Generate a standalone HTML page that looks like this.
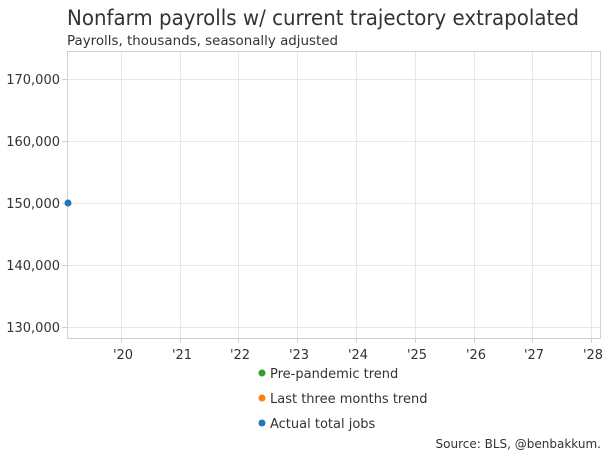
<!DOCTYPE html>
<html><head><style>
body{margin:0;background:#fff;width:615px;height:460px;overflow:hidden}
svg{display:block}
text{font-family:"DejaVu Sans","Liberation Sans",sans-serif;fill:#333}
</style></head><body>
<svg width="615" height="460" xmlns="http://www.w3.org/2000/svg">
<text x="67" y="25" font-size="21" textLength="512" lengthAdjust="spacingAndGlyphs">Nonfarm payrolls w/ current trajectory extrapolated</text>
<text x="67" y="45" font-size="13" textLength="271" lengthAdjust="spacingAndGlyphs">Payrolls, thousands, seasonally adjusted</text>
<g stroke="#e6e6e6" stroke-width="1">
<line x1="67" x2="600" y1="79.5" y2="79.5"/><line x1="67" x2="600" y1="141.5" y2="141.5"/>
<line x1="67" x2="600" y1="203.5" y2="203.5"/><line x1="67" x2="600" y1="265.5" y2="265.5"/>
<line x1="67" x2="600" y1="327.5" y2="327.5"/>
<line x1="121.5" x2="121.5" y1="51" y2="338"/><line x1="180.5" x2="180.5" y1="51" y2="338"/>
<line x1="238.5" x2="238.5" y1="51" y2="338"/><line x1="297.5" x2="297.5" y1="51" y2="338"/>
<line x1="356.5" x2="356.5" y1="51" y2="338"/><line x1="415.5" x2="415.5" y1="51" y2="338"/>
<line x1="474.5" x2="474.5" y1="51" y2="338"/><line x1="532.5" x2="532.5" y1="51" y2="338"/>
<line x1="591.5" x2="591.5" y1="51" y2="338"/>
</g>
<rect x="67.5" y="51.5" width="533" height="287" fill="none" stroke="#d0d0d0"/>
<g stroke="#d0d0d0"><line x1="62" x2="67" y1="79.5" y2="79.5"/><line x1="62" x2="67" y1="141.5" y2="141.5"/><line x1="62" x2="67" y1="203.5" y2="203.5"/><line x1="62" x2="67" y1="265.5" y2="265.5"/><line x1="62" x2="67" y1="327.5" y2="327.5"/>
<line x1="121.5" x2="121.5" y1="338" y2="343"/><line x1="180.5" x2="180.5" y1="338" y2="343"/><line x1="238.5" x2="238.5" y1="338" y2="343"/><line x1="297.5" x2="297.5" y1="338" y2="343"/><line x1="356.5" x2="356.5" y1="338" y2="343"/><line x1="415.5" x2="415.5" y1="338" y2="343"/><line x1="474.5" x2="474.5" y1="338" y2="343"/><line x1="532.5" x2="532.5" y1="338" y2="343"/><line x1="591.5" x2="591.5" y1="338" y2="343"/></g>
<g font-size="13" text-anchor="end">
<text x="60" y="84">170,000</text><text x="60" y="146">160,000</text><text x="60" y="208">150,000</text><text x="60" y="270">140,000</text><text x="60" y="332">130,000</text>
</g>
<g font-size="13" text-anchor="middle">
<text x="123" y="359">'20</text><text x="182" y="359">'21</text><text x="240" y="359">'22</text><text x="299" y="359">'23</text><text x="358" y="359">'24</text><text x="417" y="359">'25</text><text x="476" y="359">'26</text><text x="534" y="359">'27</text><text x="593" y="359">'28</text>
</g>
<circle cx="68" cy="203" r="3.5" fill="#1f77b4"/>
<circle cx="262" cy="373" r="3.5" fill="#2ca02c"/>
<text x="270" y="378" font-size="13">Pre-pandemic trend</text>
<circle cx="262" cy="398" r="3.5" fill="#ff7f0e"/>
<text x="270" y="403" font-size="13">Last three months trend</text>
<circle cx="262" cy="423" r="3.5" fill="#1f77b4"/>
<text x="270" y="428" font-size="13">Actual total jobs</text>
<text x="601" y="448" font-size="12" text-anchor="end">Source: BLS, @benbakkum.</text>
</svg>
</body></html>
